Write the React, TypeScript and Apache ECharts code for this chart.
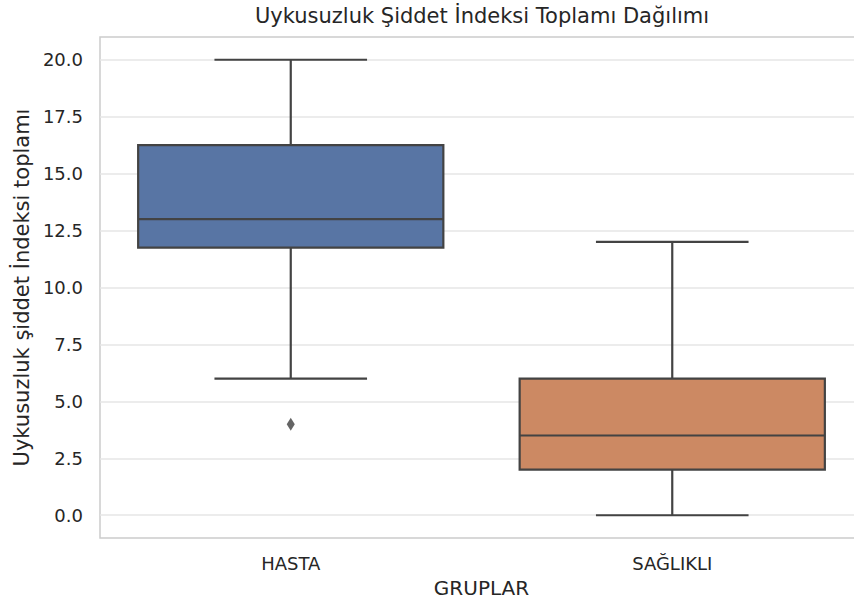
import React, { useEffect, useRef } from "react";
import * as echarts from "echarts";

const CATEGORIES = ["HASTA", "SAĞLIKLI"];
// [categoryIndex, whiskerLow, q1, median, q3, whiskerHigh]
const BOX_STATS = [
  [0, 6, 11.75, 13, 16.25, 20],
  [1, 0, 2, 3.5, 6, 12],
];
const OUTLIERS = [[0, 4]];
const Y_TICKS = [0, 2.5, 5, 7.5, 10, 12.5, 15, 17.5, 20];

const BOX_COLORS = ["#5875a4", "#cc8963"];
const LINE_COLOR = "#434343";
const TEXT_COLOR = "#262626";
const FONT = "DejaVu Sans";

export default function App() {
  const ref = useRef<HTMLDivElement>(null);
  useEffect(() => {
    if (!ref.current) return;
    const chart = echarts.init(ref.current, null, { renderer: "svg" });
    chart.setOption({
      animation: false,
      backgroundColor: "#ffffff",
      title: {
        text: "Uykusuzluk Şiddet İndeksi Toplamı Dağılımı",
        left: 482,
        textAlign: "center",
        top: 5,
        padding: 0,
        textStyle: { fontFamily: FONT, fontSize: 21, fontWeight: "normal", color: TEXT_COLOR },
      },
      grid: {
        left: 100,
        right: -9,
        top: 37,
        bottom: 63,
        containLabel: false,
        outerBoundsMode: "none",
        show: true,
        borderColor: "#cccccc",
        borderWidth: 1.5,
        backgroundColor: "transparent",
      },
      xAxis: {
        type: "category",
        data: CATEGORIES,
        boundaryGap: true,
        name: "GRUPLAR",
        nameLocation: "middle",
        nameGap: 40,
        nameTextStyle: { fontFamily: FONT, fontSize: 20, color: TEXT_COLOR },
        axisLine: { show: false },
        axisTick: { show: false },
        splitLine: { show: false },
        axisLabel: { fontFamily: FONT, fontSize: 18, color: TEXT_COLOR, margin: 16 },
      },
      yAxis: {
        type: "value",
        min: -1,
        max: 21,
        name: "Uykusuzluk şiddet İndeksi toplamı",
        nameLocation: "middle",
        nameGap: 68,
        nameTextStyle: { fontFamily: FONT, fontSize: 21, color: TEXT_COLOR },
        axisLine: { show: false },
        axisTick: { show: false, customValues: Y_TICKS },
        splitLine: { show: false },
        axisLabel: {
          fontFamily: FONT,
          fontSize: 18,
          color: TEXT_COLOR,
          margin: 17,
          customValues: Y_TICKS,
          formatter: (v: number) => v.toFixed(1),
        },
      },
      series: [
        {
          type: "scatter",
          data: [],
          z: 1,
          silent: true,
          markLine: {
            z: 1,
            silent: true,
            symbol: ["none", "none"],
            label: { show: false },
            lineStyle: { color: "#e6e6e6", width: 1.5, type: "solid" },
            data: Y_TICKS.map((v) => ({ yAxis: v })),
          },
        },
        {
          type: "custom",
          z: 3,
          data: BOX_STATS,
          encode: { x: 0, y: [1, 2, 3, 4, 5] },
          renderItem: (params: any, api: any) => {
            const x = api.value(0);
            const pLow = api.coord([x, api.value(1)]);
            const pQ1 = api.coord([x, api.value(2)]);
            const pMed = api.coord([x, api.value(3)]);
            const pQ3 = api.coord([x, api.value(4)]);
            const pHigh = api.coord([x, api.value(5)]);
            const band = api.size([1, 0])[0];
            const w = band * 0.8;
            const c = pQ1[0];
            const color = BOX_COLORS[params.dataIndex % BOX_COLORS.length];
            const ls = { stroke: LINE_COLOR, lineWidth: 2.2, fill: null };
            return {
              type: "group",
              children: [
                { type: "line", shape: { x1: c, y1: pQ1[1], x2: c, y2: pLow[1] }, style: ls },
                { type: "line", shape: { x1: c, y1: pQ3[1], x2: c, y2: pHigh[1] }, style: ls },
                { type: "line", shape: { x1: c - w / 4, y1: pLow[1], x2: c + w / 4, y2: pLow[1] }, style: ls },
                { type: "line", shape: { x1: c - w / 4, y1: pHigh[1], x2: c + w / 4, y2: pHigh[1] }, style: ls },
                {
                  type: "rect",
                  shape: { x: c - w / 2, y: pQ3[1], width: w, height: pQ1[1] - pQ3[1] },
                  style: { fill: color, stroke: LINE_COLOR, lineWidth: 2.2 },
                },
                { type: "line", shape: { x1: c - w / 2, y1: pMed[1], x2: c + w / 2, y2: pMed[1] }, style: ls },
              ],
            };
          },
        },
        {
          type: "scatter",
          z: 5,
          data: OUTLIERS,
          symbol: "diamond",
          symbolSize: [8, 13],
          itemStyle: { color: "#3d3d3d" },
        },
      ],
    });
    return () => chart.dispose();
  }, []);
  return (
    <div style={{ position: "absolute", left: 0, top: 0 }}>
      <div ref={ref} style={{ width: 854, height: 601 }} />
    </div>
  );
}
